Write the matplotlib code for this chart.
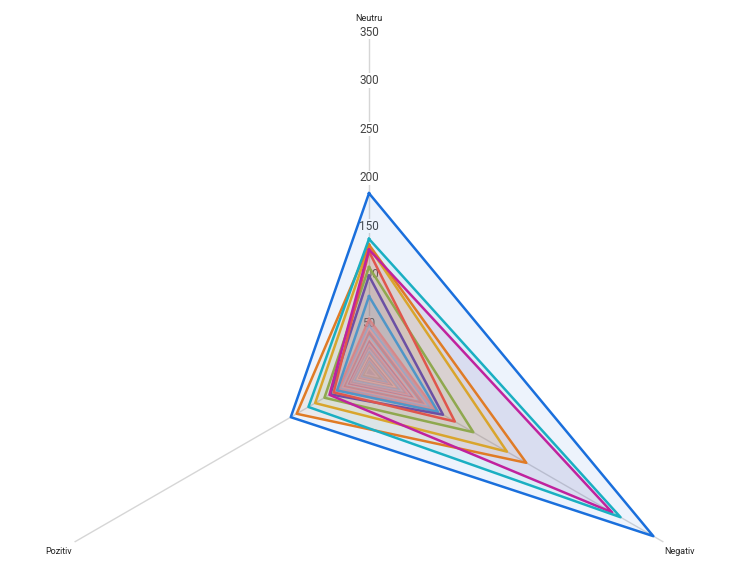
import numpy as np
import matplotlib.pyplot as plt

plt.rcParams['font.family'] = ['Roboto', 'DejaVu Sans']

# axes of the radar, clockwise from the top
axes_labels = ['Neutru', 'Negativ', 'Pozitiv']
ticks = [50, 100, 150, 200, 250, 300, 350]

# values per series: Neutru, Negativ, Pozitiv
neutru = [184, 137, 126, 131, 129, 124, 108, 99, 78,
          55, 52, 48, 45, 42, 40, 37, 35, 32, 30, 28, 26, 24, 22, 20, 18, 16, 14, 12, 10, 8, 6]
negativ = [338, 299, 289, 187, 164, 102, 124, 88, 82,
           80, 76, 72, 69, 66, 62, 60, 56, 53, 50, 47, 44, 41, 38, 35, 32, 29, 26, 22, 19, 15, 11]
pozitiv = [93, 72, 47, 86, 64, 42, 53, 46, 38,
           37, 35, 34, 32, 31, 29, 28, 27, 25, 24, 23, 21, 20, 18, 17, 15, 14, 12, 10, 9, 7, 5]
colors = ['#1a6fdc', '#1aafc2', '#c0229e', '#e07b26', '#d9a52c', '#e0564c', '#8fa84e',
          '#6c50a4', '#4f96c8',
          '#e07a7a', '#c9909a', '#8fa6c8', '#e39a9a', '#b88898', '#d08080', '#9fb0c8',
          '#e0a4a4', '#c07888', '#b4a8bc', '#e88c8c', '#a898a8', '#d4a0a8', '#98a8c0',
          '#c89090', '#e0b0a8', '#b09098', '#d89898', '#a0a0b8', '#c8a0a0', '#b89890', '#d0a8a8']

fig = plt.figure(figsize=(7.33, 5.73), dpi=100)
cx, cy, rad = 369, 573 - 372, 340
ax = fig.add_axes([(cx - rad) / 733, (cy - rad) / 573, 2 * rad / 733, 2 * rad / 573],
                  projection='polar')
ax.set_theta_zero_location('N')
ax.set_theta_direction(-1)
ax.set_ylim(0, 350)
ax.axis('off')

theta = np.deg2rad([0, 120, 240])

# spokes
for t in theta:
    ax.plot([t, t], [0, 350], color='#d6d6d6', lw=1, zorder=1)

# radial tick labels on the Neutru spoke
for v in ticks:
    ax.text(0, v, str(v), ha='center', va='center', fontsize=8.5, color='#444444',
            zorder=2, bbox=dict(facecolor='white', edgecolor='none', pad=0.5))

# axis names
ax.text(theta[0], 364, axes_labels[0], ha='center', va='center', fontsize=6.5, color='#222222')
ax.text(theta[1], 369, axes_labels[1], ha='center', va='center', fontsize=6.5, color='#222222')
ax.text(theta[2], 369, axes_labels[2], ha='center', va='center', fontsize=6.5, color='#222222')

tt = np.append(theta, theta[0])
for i in range(len(neutru)):
    vals = [neutru[i], negativ[i], pozitiv[i], neutru[i]]
    ax.fill(tt, vals, color=colors[i], alpha=0.08 if i < 9 else 0.1, lw=0, zorder=3)
    ax.plot(tt, vals, color=colors[i], lw=1.8 if i < 9 else 1.4, alpha=1 if i < 9 else 0.75,
            zorder=4 + (len(neutru) - i) * 0.01)

fig.savefig('out.png', dpi=100)
